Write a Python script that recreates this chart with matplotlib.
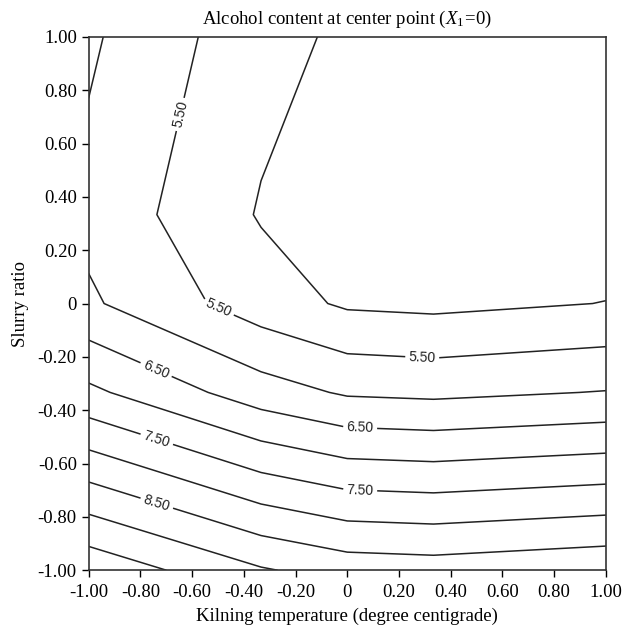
import numpy as np
import matplotlib
matplotlib.use("Agg")
import matplotlib.pyplot as plt
from matplotlib.ticker import FuncFormatter

plt.rcParams['font.family'] = ['Liberation Serif', 'DejaVu Serif']
plt.rcParams['mathtext.fontset'] = 'custom'
plt.rcParams['mathtext.rm'] = 'Liberation Serif'
plt.rcParams['mathtext.it'] = 'Liberation Serif:italic'
plt.rcParams['axes.unicode_minus'] = False

# grid nodes (coded levels)
temp_nodes = [-1.0, -1/3, 0.0, 1/3, 1.0]
slurry_nodes = [-1.0, -1/3, 0.0, 1/3, 1.0]

# alcohol content at nodes, rows = slurry ratio (bottom to top)
alc_row_m1 = [9.87, 9.05, 8.79, 8.74, 8.89]
alc_row_m13 = [7.11, 6.23, 5.94, 5.89, 6.02]
alc_row_0 = [6.075, 5.24, 4.93, 4.88, 5.01]
alc_row_p13 = [5.854, 4.96, 4.70, 4.60, 4.70]
alc_row_p1 = [6.077, 5.17, 4.91, 4.60, 4.70]

plain_levels = [5.0, 6.0, 7.0, 8.0, 9.0, 9.5]
label_levels = [5.5, 6.5, 7.5, 8.5]
ticks = [-1.0, -0.8, -0.6, -0.4, -0.2, 0.0, 0.2, 0.4, 0.6, 0.8, 1.0]

X, Y = np.meshgrid(temp_nodes, slurry_nodes)
Z = np.array([alc_row_m1, alc_row_m13, alc_row_0, alc_row_p13, alc_row_p1])

fig = plt.figure(figsize=(6.24, 6.35), dpi=100)
ax = fig.add_axes([0.142, 0.102, 0.829, 0.840])

ax.contour(X, Y, Z, levels=plain_levels, colors='#222222', linewidths=1.1)
cs = ax.contour(X, Y, Z, levels=label_levels, colors='#222222', linewidths=1.1)

label_pos = [(-0.65, 0.71), (-0.50, -0.02), (0.29, -0.20),
             (-0.74, -0.25), (0.05, -0.46),
             (-0.74, -0.52), (0.05, -0.70),
             (-0.74, -0.76)]
lab = ax.clabel(cs, inline=True, fmt='%.2f', fontsize=10, manual=label_pos)
for t in lab:
    t.set_family(['Liberation Sans', 'DejaVu Sans'])
    t.set_color('#222222')

ax.set_xlim(-1, 1)
ax.set_ylim(-1, 1)
ax.set_xticks(ticks)
ax.set_yticks(ticks)
fmt = FuncFormatter(lambda v, p: '0' if abs(v) < 1e-9 else f'{v:.2f}')
ax.xaxis.set_major_formatter(fmt)
ax.yaxis.set_major_formatter(fmt)
ax.tick_params(direction='out', length=5, width=1, labelsize=13.5)
ax.tick_params(axis='x', pad=5)
for s in ax.spines.values():
    s.set_linewidth(1.2)
    s.set_color('#333333')

ax.set_title(r'Alcohol content at center point ($X_{1}\!=\!0$)', fontsize=13.5, pad=9)
ax.set_xlabel('Kilning temperature (degree centigrade)', fontsize=13.5, labelpad=5)
ax.set_ylabel('Slurry ratio', fontsize=13.5, labelpad=6)

fig.savefig('out.png', dpi=100)
